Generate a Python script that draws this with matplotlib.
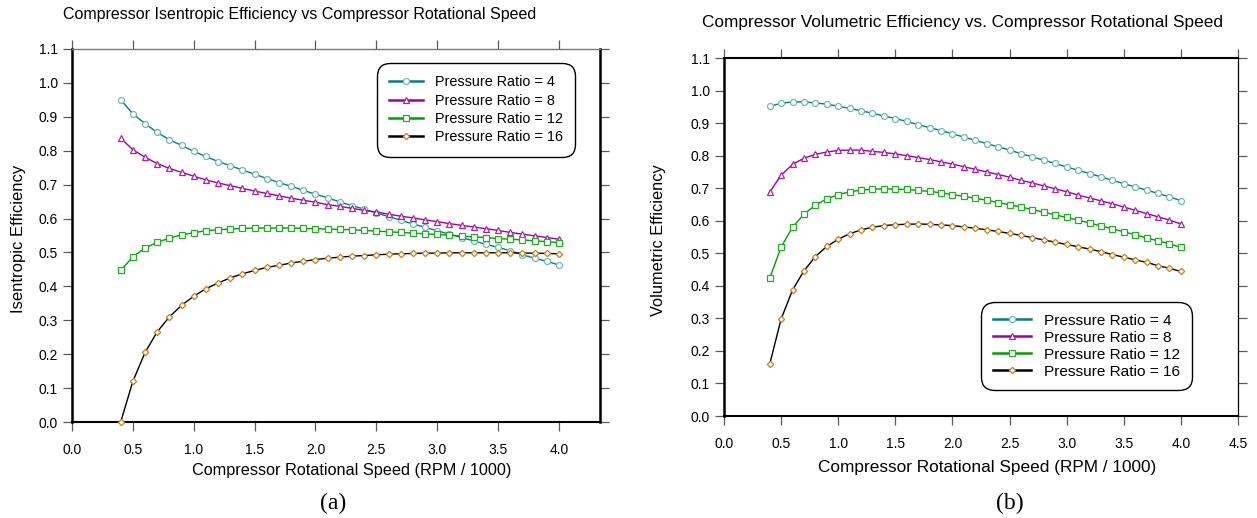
import matplotlib.pyplot as plt
import numpy as np

plt.rcParams['font.family'] = ['Liberation Sans', 'DejaVu Sans']

# rotational speed (RPM / 1000)
speed = [0.4, 0.5, 0.6, 0.7, 0.8, 0.9, 1.0, 1.1, 1.2, 1.3, 1.4, 1.5, 1.6, 1.7, 1.8,
         1.9, 2.0, 2.1, 2.2, 2.3, 2.4, 2.5, 2.6, 2.7, 2.8, 2.9, 3.0, 3.1, 3.2, 3.3,
         3.4, 3.5, 3.6, 3.7, 3.8, 3.9, 4.0]

# (a) isentropic efficiency
isen_pr4 = [0.950, 0.909, 0.880, 0.854, 0.832, 0.816, 0.798, 0.783, 0.768, 0.756,
            0.743, 0.731, 0.718, 0.706, 0.695, 0.683, 0.672, 0.661, 0.649, 0.638,
            0.628, 0.616, 0.606, 0.595, 0.584, 0.574, 0.564, 0.554, 0.544, 0.534,
            0.524, 0.515, 0.505, 0.493, 0.483, 0.474, 0.463]
isen_pr8 = [0.837, 0.803, 0.781, 0.762, 0.748, 0.736, 0.725, 0.714, 0.705, 0.697,
            0.689, 0.681, 0.674, 0.667, 0.660, 0.654, 0.648, 0.641, 0.636, 0.630,
            0.624, 0.619, 0.613, 0.607, 0.602, 0.596, 0.591, 0.585, 0.580, 0.575,
            0.570, 0.565, 0.559, 0.554, 0.549, 0.544, 0.539]
isen_pr12 = [0.447, 0.487, 0.513, 0.530, 0.542, 0.552, 0.558, 0.564, 0.567, 0.569,
             0.571, 0.572, 0.572, 0.572, 0.572, 0.571, 0.570, 0.569, 0.568, 0.567,
             0.565, 0.563, 0.561, 0.559, 0.557, 0.555, 0.553, 0.551, 0.548, 0.546,
             0.544, 0.541, 0.539, 0.537, 0.534, 0.532, 0.529]
isen_pr16 = [0.000, 0.120, 0.205, 0.266, 0.310, 0.344, 0.371, 0.393, 0.410, 0.425,
             0.437, 0.447, 0.456, 0.462, 0.469, 0.474, 0.479, 0.483, 0.486, 0.489,
             0.491, 0.493, 0.495, 0.496, 0.497, 0.498, 0.498, 0.499, 0.499, 0.499,
             0.499, 0.499, 0.499, 0.498, 0.498, 0.497, 0.496]

# (b) volumetric efficiency
vol_pr4 = [0.951, 0.961, 0.965, 0.965, 0.962, 0.958, 0.952, 0.945, 0.938, 0.930,
           0.922, 0.914, 0.905, 0.895, 0.886, 0.877, 0.867, 0.857, 0.847, 0.837,
           0.827, 0.817, 0.806, 0.796, 0.786, 0.776, 0.765, 0.755, 0.745, 0.735,
           0.724, 0.714, 0.704, 0.694, 0.684, 0.673, 0.662]
vol_pr8 = [0.688, 0.740, 0.773, 0.792, 0.804, 0.811, 0.816, 0.817, 0.817, 0.813,
           0.810, 0.805, 0.800, 0.794, 0.788, 0.781, 0.774, 0.766, 0.758, 0.750,
           0.742, 0.734, 0.724, 0.716, 0.707, 0.698, 0.689, 0.679, 0.670, 0.661,
           0.652, 0.642, 0.632, 0.622, 0.612, 0.602, 0.590]
vol_pr12 = [0.423, 0.519, 0.580, 0.620, 0.648, 0.667, 0.680, 0.689, 0.694, 0.697,
            0.698, 0.697, 0.696, 0.693, 0.690, 0.686, 0.680, 0.675, 0.669, 0.663,
            0.656, 0.649, 0.642, 0.634, 0.626, 0.618, 0.610, 0.602, 0.593, 0.584,
            0.575, 0.566, 0.557, 0.547, 0.538, 0.529, 0.518]
vol_pr16 = [0.159, 0.298, 0.387, 0.446, 0.490, 0.521, 0.543, 0.560, 0.572, 0.580,
            0.585, 0.588, 0.589, 0.590, 0.589, 0.587, 0.585, 0.581, 0.577, 0.572,
            0.567, 0.561, 0.555, 0.548, 0.541, 0.534, 0.527, 0.520, 0.513, 0.505,
            0.496, 0.488, 0.480, 0.472, 0.462, 0.454, 0.444]

labels = ['Pressure Ratio = 4', 'Pressure Ratio = 8',
          'Pressure Ratio = 12', 'Pressure Ratio = 16']
# line colour, marker edge colour, marker, marker size
styles = [('#008080', '#70b8b8', 'o', 4.3),
          ('#a000a0', '#b020b0', '^', 4.5),
          ('#00a000', '#20b020', 's', 4.2),
          ('#000000', '#c8801a', 'D', 3.2)]

W, H = 1257, 518
yticks = [0.0, 0.1, 0.2, 0.3, 0.4, 0.5, 0.6, 0.7, 0.8, 0.9, 1.0, 1.1]


def px_box(x0, y0, x1, y1):
    # pixel box (top-left origin) -> figure fraction rect
    return [x0 / W, 1 - y1 / H, (x1 - x0) / W, (y1 - y0) / H]


def draw_panel(ax, series, xmax, xticks):
    for ys, lab, (lc, mc, mk, ms) in zip(series, labels, styles):
        ax.plot(speed, ys, '-', color=lc, lw=1.0, marker=mk, ms=ms,
                mfc='white', mec=mc, mew=0.9, label=lab, clip_on=False, zorder=3)
    ax.set_xlim(0, xmax)
    ax.set_ylim(0, 1.1)
    ax.set_xticks(xticks)
    ax.set_xticklabels(['%.1f' % t for t in xticks])
    ax.set_yticks(yticks)
    ax.set_yticklabels(['%.1f' % t for t in yticks])
    ax.tick_params(axis='both', direction='out', length=6.5, width=0.9,
                   color='#5a5a5a', labelsize=10, top=True, right=True)
    ax.tick_params(axis='x', pad=8.5)
    ax.tick_params(axis='y', pad=3.5)
    ax.spines['left'].set_linewidth(1.8)
    ax.spines['bottom'].set_linewidth(1.5)


def style_legend(leg):
    leg.get_frame().set_linewidth(1.0)
    leg.get_frame().set_boxstyle('round,pad=0,rounding_size=0.9')
    for h in leg.get_lines():
        h.set_linewidth(1.8)


fig = plt.figure(figsize=(W / 100, H / 100), dpi=100)

# ---- (a) isentropic efficiency ----
ax1 = fig.add_axes(px_box(72, 49, 600, 422))
draw_panel(ax1, [isen_pr4, isen_pr8, isen_pr12, isen_pr16], 4.337,
           [0.0, 0.5, 1.0, 1.5, 2.0, 2.5, 3.0, 3.5, 4.0])
ax1.spines['right'].set_linewidth(1.8)
ax1.spines['top'].set_linewidth(1.0)
ax1.spines['top'].set_color('#777777')
ax1.set_xlabel('Compressor Rotational Speed (RPM / 1000)', fontsize=11.7)
ax1.xaxis.set_label_coords(0.53, -0.110)
ax1.set_ylabel('Isentropic Efficiency', fontsize=12)
ax1.yaxis.set_label_coords(-0.087, 0.49)
leg1 = ax1.legend(loc='upper left', bbox_to_anchor=(377 / W, 1 - 63 / H),
                  bbox_transform=fig.transFigure, borderaxespad=0,
                  fontsize=10.4, frameon=True, edgecolor='black', framealpha=1,
                  handlelength=2.35, handletextpad=0.8, labelspacing=0.3,
                  borderpad=0.85)
style_legend(leg1)

fig.text(300 / W, 1 - 15 / H,
         'Compressor Isentropic Efficiency vs Compressor Rotational Speed',
         fontsize=11.5, ha='center', va='center')

# ---- (b) volumetric efficiency ----
ax2 = fig.add_axes(px_box(724, 58, 1238, 416))
draw_panel(ax2, [vol_pr4, vol_pr8, vol_pr12, vol_pr16], 4.5,
           [0.0, 0.5, 1.0, 1.5, 2.0, 2.5, 3.0, 3.5, 4.0, 4.5])
ax2.spines['right'].set_linewidth(0.9)
ax2.spines['top'].set_linewidth(1.5)
ax2.set_xlabel('Compressor Rotational Speed (RPM / 1000)', fontsize=12.4)
ax2.xaxis.set_label_coords(0.512, -0.123)
ax2.set_ylabel('Volumetric Efficiency', fontsize=11.8)
ax2.yaxis.set_label_coords(-0.113, 0.49)
leg2 = ax2.legend(loc='upper left', bbox_to_anchor=(981 / W, 1 - 302 / H),
                  bbox_transform=fig.transFigure, borderaxespad=0,
                  fontsize=11.1, frameon=True, edgecolor='black', framealpha=1,
                  handlelength=2.5, handletextpad=0.85, labelspacing=0.2,
                  borderpad=0.75)
style_legend(leg2)

fig.text(962 / W, 1 - 22 / H,
         'Compressor Volumetric Efficiency vs. Compressor Rotational Speed',
         fontsize=12.4, ha='center', va='center')

fig.text(333 / W, 1 - 503 / H, '(a)', family='Liberation Serif', fontsize=17,
         ha='center', va='center')
fig.text(1010 / W, 1 - 503 / H, '(b)', family='Liberation Serif', fontsize=17,
         ha='center', va='center')

fig.savefig('out.png', dpi=100)
